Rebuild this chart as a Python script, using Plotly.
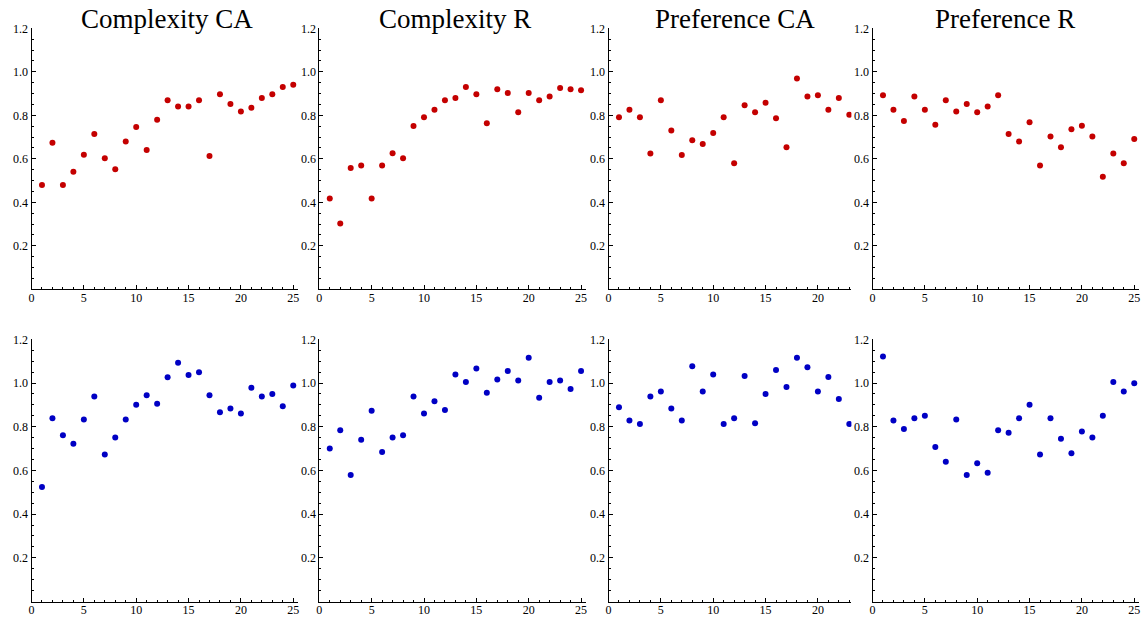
import plotly.graph_objects as go

# data
x25 = list(range(1, 26))
x23 = list(range(1, 24))

titles = ["Complexity CA", "Complexity R", "Preference CA", "Preference R"]

complexity_ca_red = [0.480, 0.674, 0.480, 0.541, 0.619, 0.714, 0.602, 0.552, 0.680, 0.746,
                     0.641, 0.780, 0.869, 0.841, 0.841, 0.869, 0.613, 0.897, 0.852, 0.818,
                     0.835, 0.880, 0.897, 0.930, 0.941]
complexity_r_red = [0.418, 0.302, 0.558, 0.569, 0.418, 0.569, 0.625, 0.602, 0.751, 0.791,
                    0.825, 0.869, 0.880, 0.930, 0.897, 0.763, 0.920, 0.903, 0.814, 0.903,
                    0.869, 0.886, 0.926, 0.920, 0.915]
preference_ca_red = [0.791, 0.825, 0.791, 0.624, 0.869, 0.730, 0.618, 0.685, 0.668, 0.719,
                     0.791, 0.579, 0.846, 0.814, 0.858, 0.786, 0.653, 0.969, 0.886, 0.892,
                     0.825, 0.880, 0.802]
preference_r_red = [0.892, 0.825, 0.774, 0.886, 0.825, 0.757, 0.869, 0.818, 0.852, 0.814,
                    0.841, 0.892, 0.714, 0.680, 0.768, 0.569, 0.702, 0.653, 0.736, 0.752,
                    0.702, 0.518, 0.624, 0.579, 0.691]

complexity_ca_blue = [0.524, 0.839, 0.761, 0.722, 0.833, 0.938, 0.673, 0.751, 0.833, 0.900,
                      0.944, 0.905, 1.026, 1.093, 1.037, 1.049, 0.944, 0.866, 0.883, 0.860,
                      0.978, 0.938, 0.950, 0.894, 0.988]
complexity_r_blue = [0.700, 0.784, 0.579, 0.740, 0.873, 0.684, 0.751, 0.761, 0.938, 0.860,
                     0.917, 0.877, 1.039, 1.005, 1.066, 0.955, 1.016, 1.055, 1.011, 1.116,
                     0.933, 1.005, 1.011, 0.972, 1.055]
preference_ca_blue = [0.889, 0.828, 0.812, 0.938, 0.961, 0.883, 0.828, 1.077, 0.961, 1.039,
                      0.812, 0.839, 1.032, 0.816, 0.950, 1.060, 0.982, 1.116, 1.072, 0.961,
                      1.028, 0.927, 0.812]
preference_r_blue = [1.121, 0.828, 0.789, 0.839, 0.850, 0.707, 0.640, 0.833, 0.579, 0.633,
                     0.589, 0.784, 0.772, 0.839, 0.900, 0.673, 0.839, 0.745, 0.678, 0.778,
                     0.751, 0.850, 1.005, 0.961, 0.999]

top = [(x25, complexity_ca_red), (x25, complexity_r_red), (x23, preference_ca_red), (x25, preference_r_red)]
bottom = [(x25, complexity_ca_blue), (x25, complexity_r_blue), (x23, preference_ca_blue), (x25, preference_r_blue)]

W, H = 1142, 618
RED = "#c40000"
BLUE = "#0000c4"
FONT = "Liberation Serif, Times New Roman, DejaVu Serif, serif"

# layout in pixels
left_px = [31.5, 319.3, 608.5, 872.5]
x_max = [25.45, 25.45, 23.2, 25.45]
px_per_unit = 10.47
row_px = [(28.3, 289.3), (339.3, 601.5)]  # (top of 1.2, y=0) per row
title_cx = [167, 455, 735, 1005]

fig = go.Figure()
layout = {}

for r, rows in enumerate([top, bottom]):
    for c, (xs, ys) in enumerate(rows):
        n = r * 4 + c + 1
        sfx = "" if n == 1 else str(n)
        fig.add_trace(go.Scatter(
            x=xs, y=ys, mode="markers",
            marker=dict(size=6, color=RED if r == 0 else BLUE),
            xaxis="x" + sfx, yaxis="y" + sfx, showlegend=False,
        ))
        x0 = left_px[c]
        x1 = x0 + x_max[c] * px_per_unit
        ytop, ybot = row_px[r]
        layout["xaxis" + sfx] = dict(
            domain=[x0 / W, x1 / W], range=[0, x_max[c]], anchor="y" + sfx,
            automargin=False,
            showline=True, linecolor="black", linewidth=1, showgrid=False, zeroline=False,
            ticks="inside", ticklen=4, tickcolor="black", ticklabelstandoff=-3,
            tickvals=[v for v in [0, 5, 10, 15, 20, 25] if v <= x_max[c]],
            minor=dict(dtick=1, tick0=0, ticks="inside", ticklen=2, tickcolor="black"),
            tickfont=dict(family=FONT, size=12, color="black"),
        )
        layout["yaxis" + sfx] = dict(
            domain=[1 - ybot / H, 1 - ytop / H], range=[0, 1.2], anchor="x" + sfx,
            automargin=False,
            showline=True, linecolor="black", linewidth=1, showgrid=False, zeroline=False,
            ticks="inside", ticklen=4, tickcolor="black",
            tickvals=[0.2, 0.4, 0.6, 0.8, 1.0, 1.2], tickformat=".1f",
            minor=dict(dtick=0.05, tick0=0, ticks="inside", ticklen=2, tickcolor="black"),
            tickfont=dict(family=FONT, size=12, color="black"),
        )

annotations = [
    dict(text=t, x=cx / W, y=1 - 19 / H, xref="paper", yref="paper",
         xanchor="center", yanchor="middle", showarrow=False,
         font=dict(family=FONT, size=27, color="black"))
    for t, cx in zip(titles, title_cx)
]

fig.update_layout(
    width=W, height=H, autosize=False,
    margin=dict(l=0, r=0, t=0, b=0, pad=0),
    paper_bgcolor="white", plot_bgcolor="white",
    annotations=annotations,
    **layout,
)

# drop the default page margin so the figure sits at the window's corner
fig.write_html("out.html", config={"displayModeBar": False},
               post_script="document.body.style.margin='0';")
